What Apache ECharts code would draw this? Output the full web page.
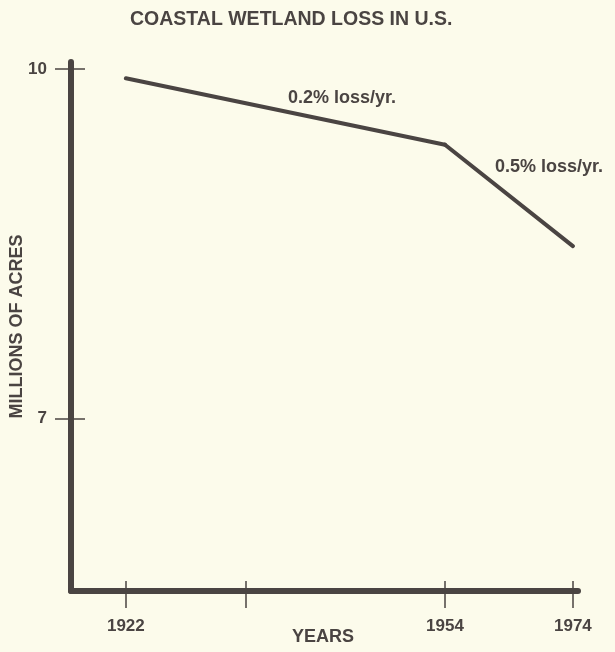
<!DOCTYPE html>
<html>
<head>
<meta charset="utf-8">
<script src="https://cdn.jsdelivr.net/npm/echarts@6/dist/echarts.min.js"></script>
<style>
  html, body { margin: 0; padding: 0; background: #fcfbeb; }
  #chart { width: 615px; height: 652px; }
</style>
</head>
<body>
<div id="chart"></div>
<script>
// data
const years = [1922, 1954, 1974];
const acres = [9.92, 9.35, 8.48]; // millions of acres
const yTicks = [7, 10];
const xTicksEarly = [1922, 1934, 1954];
const xLabelsEarly = [1922, 1954];
const xLabelsLate = [1974];
const notes = ["0.2% loss/yr.", "0.5% loss/yr."];

const ink = "#4a4442";
const font = "'Liberation Sans', Arial, sans-serif";
const yMin = 5.52;
const yMax = 10.06;

const myChart = echarts.init(document.getElementById("chart"));

// the year axis is not linear: 1922-1954 and 1954-1974 use different spacing,
// so draw it in two grids side by side
const earlyData = [];
const lateData = [];
years.forEach((y, i) => {
  if (y <= 1954) earlyData.push([y, acres[i]]);
  if (y >= 1954) lateData.push([y, acres[i]]);
});

const axisLine = { show: true, onZero: false, lineStyle: { color: ink, width: 6, cap: "round" } };
const tickLabel = {
  color: ink,
  fontSize: 17,
  fontWeight: "bold",
  fontFamily: font,
  formatter: (v) => String(v),
};
const tickLine = { color: ink, width: 1.5 };

const option = {
  backgroundColor: "#fcfbeb",
  textStyle: { fontFamily: font },
  title: {
    text: "COASTAL WETLAND LOSS IN U.S.",
    left: 130,
    top: 10,
    padding: 0,
    textStyle: { color: ink, fontSize: 19.5, fontWeight: "bold", fontFamily: font },
  },
  grid: [
    { left: 71, right: 170, top: 62, bottom: 61, outerBoundsMode: "none", containLabel: false },
    { left: 445, right: 37, top: 62, bottom: 61, outerBoundsMode: "none", containLabel: false },
  ],
  xAxis: [
    {
      type: "value",
      gridIndex: 0,
      position: "bottom",
      min: 1916.5,
      max: 1954,
      axisLine: axisLine,
      axisTick: { show: true, customValues: xTicksEarly, length: 17, lineStyle: tickLine },
      axisLabel: Object.assign({ customValues: xLabelsEarly, margin: 27 }, tickLabel),
      splitLine: { show: false },
    },
    {
      type: "value",
      gridIndex: 0,
      position: "bottom",
      min: 1916.5,
      max: 1954,
      axisLine: { show: false, onZero: false },
      axisTick: { show: true, inside: true, customValues: xTicksEarly, length: 10, lineStyle: tickLine },
      axisLabel: { show: false },
      splitLine: { show: false },
    },
    {
      type: "value",
      gridIndex: 1,
      position: "bottom",
      min: 1954,
      max: 1974.8,
      axisLine: axisLine,
      axisTick: { show: true, customValues: xLabelsLate, length: 17, lineStyle: tickLine },
      axisLabel: Object.assign({ customValues: xLabelsLate, margin: 27 }, tickLabel),
      splitLine: { show: false },
    },
    {
      type: "value",
      gridIndex: 1,
      position: "bottom",
      min: 1954,
      max: 1974.8,
      axisLine: { show: false, onZero: false },
      axisTick: { show: true, inside: true, customValues: xLabelsLate, length: 10, lineStyle: tickLine },
      axisLabel: { show: false },
      splitLine: { show: false },
    },
  ],
  yAxis: [
    {
      type: "value",
      gridIndex: 0,
      position: "left",
      min: yMin,
      max: yMax,
      axisLine: axisLine,
      axisTick: { show: true, customValues: yTicks, length: 16, lineStyle: tickLine },
      axisLabel: Object.assign({ customValues: yTicks, margin: 24 }, tickLabel),
      splitLine: { show: false },
      name: "MILLIONS OF ACRES",
      nameLocation: "middle",
      nameGap: 45,
      nameMoveOverlap: false,
      nameTextStyle: { color: ink, fontSize: 18, fontWeight: "bold", fontFamily: font },
    },
    {
      type: "value",
      gridIndex: 0,
      position: "left",
      min: yMin,
      max: yMax,
      axisLine: { show: false, onZero: false },
      axisTick: { show: true, inside: true, customValues: yTicks, length: 14, lineStyle: tickLine },
      axisLabel: { show: false },
      splitLine: { show: false },
    },
    {
      type: "value",
      gridIndex: 1,
      min: yMin,
      max: yMax,
      show: false,
    },
  ],
  graphic: [
    {
      type: "text",
      left: 292,
      top: 628,
      style: { text: "YEARS", fill: ink, font: "bold 18px " + font },
    },
    {
      type: "text",
      left: 288,
      top: 89,
      style: { text: notes[0], fill: ink, font: "bold 18px " + font },
    },
    {
      type: "text",
      left: 495,
      top: 158,
      style: { text: notes[1], fill: ink, font: "bold 18px " + font },
    },
  ],
  series: [
    {
      type: "line",
      xAxisIndex: 0,
      yAxisIndex: 0,
      data: earlyData,
      symbol: "none",
      clip: false,
      lineStyle: { color: ink, width: 4, cap: "round" },
      silent: true,
    },
    {
      type: "line",
      xAxisIndex: 2,
      yAxisIndex: 2,
      data: lateData,
      symbol: "none",
      clip: false,
      lineStyle: { color: ink, width: 4, cap: "round" },
      silent: true,
    },
  ],
};

myChart.setOption(option);
</script>
</body>
</html>
